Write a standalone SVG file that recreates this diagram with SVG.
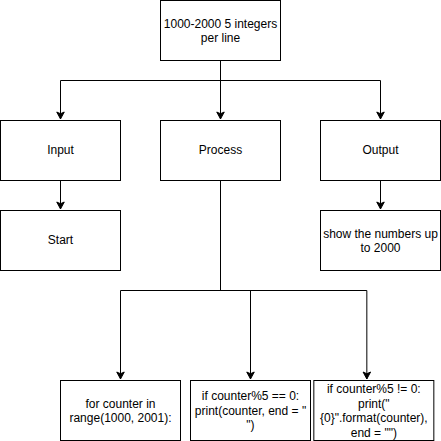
<svg xmlns="http://www.w3.org/2000/svg" width="441" height="441" viewBox="0 0 441 441">
<style>
.box{fill:#fff;stroke:#000;stroke-width:1}
.t{font-family:"Liberation Sans",Arial,Helvetica,sans-serif;font-size:12px;fill:#000;text-anchor:middle}
.c{fill:none;stroke:#000;stroke-width:1}
</style>
<defs>
<marker id="arr" markerUnits="userSpaceOnUse" orient="auto" refX="0" refY="0" viewBox="-8 -5 9 10" markerWidth="9" markerHeight="10" overflow="visible">
<path d="M0,0 L-7,-3.75 L-5.25,0 L-7,3.75 Z" fill="#000" stroke="#000" stroke-width="1"/>
</marker>
</defs>
<rect width="441" height="441" fill="#fff"/>
<g id="connectors">
<path class="c" d="M220.5,60.5 V80.5"/>
<path class="c" d="M60.5,80.5 H380.5"/>
<path class="c" d="M60.5,80.5 V119" marker-end="url(#arr)"/>
<path class="c" d="M220.5,80.5 V119" marker-end="url(#arr)"/>
<path class="c" d="M380.5,80.5 V119" marker-end="url(#arr)"/>
<path class="c" d="M60.5,180.5 V209" marker-end="url(#arr)"/>
<path class="c" d="M380.5,180.5 V209" marker-end="url(#arr)"/>
<path class="c" d="M220.5,180.5 V290.5"/>
<path class="c" d="M120.5,290.5 H366.83"/>
<path class="c" d="M120.5,290.5 V379" marker-end="url(#arr)"/>
<path class="c" d="M250.5,290.5 V379" marker-end="url(#arr)"/>
<path class="c" d="M366.83,290.5 V379" marker-end="url(#arr)"/>
</g>
<g id="top">
<rect class="box" x="160.5" y="0.5" width="120" height="60"/>
<text class="t" x="220.5" y="27.5">1000-2000 5 integers</text>
<text class="t" x="220.5" y="42">per line</text>
</g>
<g id="input">
<rect class="box" x="0.5" y="120.5" width="120" height="60"/>
<text class="t" x="60.5" y="154">Input</text>
</g>
<g id="process">
<rect class="box" x="160.5" y="120.5" width="120" height="60"/>
<text class="t" x="220.5" y="154">Process</text>
</g>
<g id="output">
<rect class="box" x="320.5" y="120.5" width="120" height="60"/>
<text class="t" x="380.5" y="154">Output</text>
</g>
<g id="start">
<rect class="box" x="0.5" y="210.5" width="120" height="60"/>
<text class="t" x="60.5" y="244">Start</text>
</g>
<g id="show">
<rect class="box" x="320.5" y="210.5" width="120" height="60"/>
<text class="t" x="380.5" y="237.5">show the numbers up</text>
<text class="t" x="380.5" y="252">to 2000</text>
</g>
<g id="forloop">
<rect class="box" x="60.5" y="380.5" width="120" height="60"/>
<text class="t" x="120.5" y="407.5">for counter in</text>
<text class="t" x="120.5" y="422">range(1000, 2001):</text>
</g>
<g id="ifeq">
<rect class="box" x="190.5" y="380.5" width="120" height="60"/>
<text class="t" x="250.5" y="400">if counter%5 == 0:</text>
<text class="t" x="250.5" y="414.5">print(counter, end = "</text>
<text class="t" x="250.5" y="429">")</text>
</g>
<g id="ifne">
<rect class="box" x="313.83" y="380.5" width="120" height="60"/>
<text class="t" x="373.83" y="393">if counter%5 != 0:</text>
<text class="t" x="373.83" y="407.5">print("</text>
<text class="t" x="373.83" y="422">{0}".format(counter),</text>
<text class="t" x="373.83" y="436.5">end = "")</text>
</g>
</svg>
